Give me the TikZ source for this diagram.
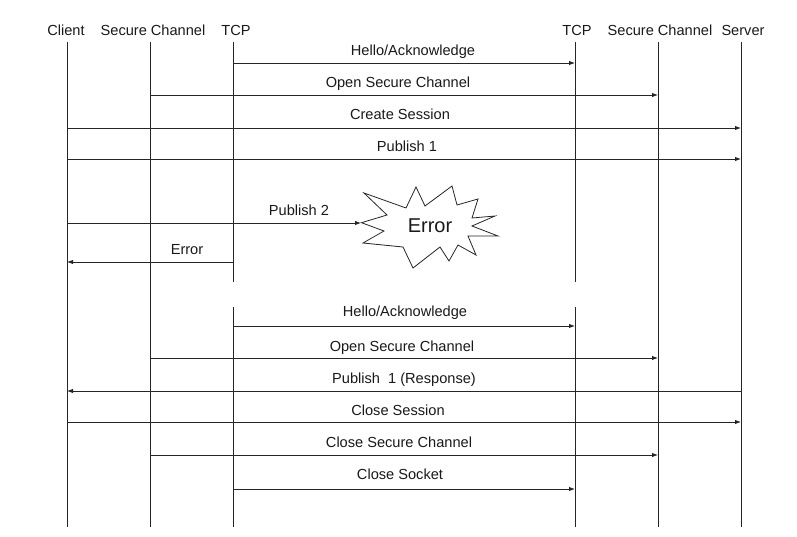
\documentclass[tikz,border=0pt]{standalone}
\usepackage{fontspec}
\setmainfont{Liberation Sans}
\usetikzlibrary{arrows.meta}
\begin{document}
\begin{tikzpicture}[x=1pt,y=-1pt,
  life/.style={line width=0.9pt, draw=black!85},
  msg/.style={line width=0.9pt, draw=black!85, -{Latex[length=6pt,width=4.5pt]}},
  hdr/.style={font=\fontsize{14.6}{17}\selectfont, inner sep=0pt, anchor=base, text=black!90},
  lbl/.style={font=\fontsize{14.6}{17}\selectfont, inner sep=0pt, anchor=base, text=black!90},
  burst/.style={line width=0.8pt, draw=black!85, line join=miter}]
\useasboundingbox (0,0) rectangle (797,537);

% headers
\node[hdr] (hC)  at (66,36)  {Client};
\node[hdr] (hS1) at (153,36) {Secure Channel};
\node[hdr] (hT1) at (236,36) {TCP};
\node[hdr] (hT2) at (577,36) {TCP};
\node[hdr] (hS2) at (660,36) {Secure Channel};
\node[hdr] (hV)  at (743,36) {Server};

% lifeline ends
\coordinate (cT) at (67,42);   \coordinate (cB) at (67,527);
\coordinate (sT) at (150,42);  \coordinate (sB) at (150,527);
\coordinate (tT) at (233,42);  \coordinate (tM) at (233,282);
\coordinate (tN) at (233,307); \coordinate (tB) at (233,527);
\coordinate (uT) at (575,42);  \coordinate (uM) at (575,282);
\coordinate (uN) at (575,307); \coordinate (uB) at (575,527);
\coordinate (rT) at (658,42);  \coordinate (rB) at (658,527);
\coordinate (vT) at (741,42);  \coordinate (vB) at (741,527);

\draw[life] (cT) -- (cB);
\draw[life] (sT) -- (sB);
\draw[life] (tT) -- (tM);
\draw[life] (tN) -- (tB);
\draw[life] (uT) -- (uM);
\draw[life] (uN) -- (uB);
\draw[life] (rT) -- (rB);
\draw[life] (vT) -- (vB);

% message end points
\coordinate (m1a) at (233,63);  \coordinate (m1b) at (575,63);
\coordinate (m2a) at (150,95);  \coordinate (m2b) at (658,95);
\coordinate (m3a) at (67,128);  \coordinate (m3b) at (741,128);
\coordinate (m4a) at (67,159);  \coordinate (m4b) at (741,159);
\coordinate (m5a) at (67,223);  \coordinate (m5b) at (361,223);
\coordinate (m6a) at (233,262); \coordinate (m6b) at (67,262);
\coordinate (m7a) at (233,326); \coordinate (m7b) at (575,326);
\coordinate (m8a) at (150,358); \coordinate (m8b) at (658,358);
\coordinate (m9a) at (741,391); \coordinate (m9b) at (67,391);
\coordinate (m10a) at (67,422); \coordinate (m10b) at (741,422);
\coordinate (m11a) at (150,455);\coordinate (m11b) at (658,455);
\coordinate (m12a) at (233,489);\coordinate (m12b) at (575,489);

\draw[msg] (m1a) -- (m1b);
\draw[msg] (m2a) -- (m2b);
\draw[msg] (m3a) -- (m3b);
\draw[msg] (m4a) -- (m4b);
\draw[msg] (m5a) -- (m5b);
\draw[msg] (m6a) -- (m6b);
\draw[msg] (m7a) -- (m7b);
\draw[msg] (m8a) -- (m8b);
\draw[msg] (m9a) -- (m9b);
\draw[msg] (m10a) -- (m10b);
\draw[msg] (m11a) -- (m11b);
\draw[msg] (m12a) -- (m12b);

% labels
\node[lbl] (l1)  at (413,55.5)  {Hello/Acknowledge};
\node[lbl] (l2)  at (398,87.5)  {Open Secure Channel};
\node[lbl] (l3)  at (400,119.5) {Create Session};
\node[lbl] (l4)  at (407,152)   {Publish 1};
\node[lbl] (l5)  at (299,216)   {Publish 2};
\node[lbl] (l6)  at (187,254.5) {Error};
\node[lbl] (l7)  at (405,316.5) {Hello/Acknowledge};
\node[lbl] (l8)  at (402,351.5) {Open Secure Channel};
\node[lbl] (l9)  at (404,383.5) {Publish\ \ 1 (Response)};
\node[lbl] (l10) at (398,415.5) {Close Session};
\node[lbl] (l11) at (399,447.5) {Close Secure Channel};
\node[lbl] (l12) at (400,479.5) {Close Socket};

% error burst
\draw[burst] (361.5,222.7) -- (387,215) -- (364,193) -- (406,208) -- (416,187)
  -- (425,206) -- (452,186) -- (457,205) -- (478,199) -- (472,218)
  -- (495,216) -- (472,226) -- (498,236) -- (468,236) -- (476,255)
  -- (458,245) -- (449,261) -- (440,247) -- (413,268) -- (403,247)
  -- (363,243) -- (384,231) -- cycle;
\node[font=\fontsize{20}{24}\selectfont, inner sep=0pt, text=black!90] (err) at (430,226) {Error};
\end{tikzpicture}
\end{document}
